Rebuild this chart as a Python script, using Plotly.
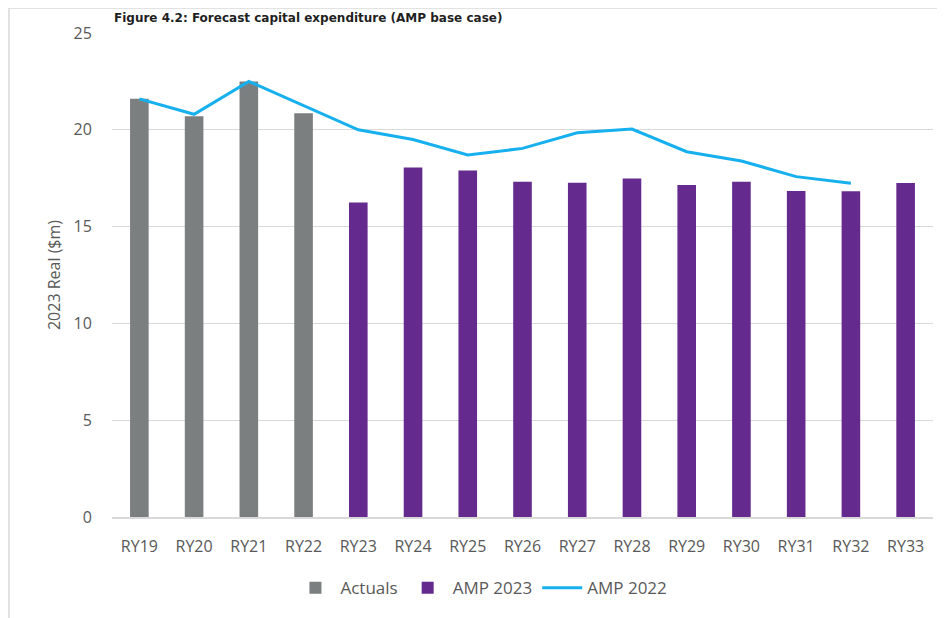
import plotly.graph_objects as go

years = ['RY19', 'RY20', 'RY21', 'RY22', 'RY23', 'RY24', 'RY25', 'RY26',
         'RY27', 'RY28', 'RY29', 'RY30', 'RY31', 'RY32', 'RY33']
actuals = [21.6, 20.7, 22.5, 20.85, None, None, None, None,
           None, None, None, None, None, None, None]
amp_2023 = [None, None, None, None, 16.25, 18.05, 17.9, 17.32,
            17.27, 17.49, 17.15, 17.32, 16.84, 16.82, 17.25]
amp_2022 = [21.6, 20.8, 22.5, 21.25, 20.0, 19.5, 18.7, 19.04,
            19.85, 20.04, 18.87, 18.39, 17.58, 17.24, None]

grey_txt = '#595959'
grid = '#d9d9d9'

fig = go.Figure()
fig.add_bar(x=years, y=actuals, name='Actuals', marker_color='#7b7f80',
            marker_line_width=0)
fig.add_bar(x=years, y=amp_2023, name='AMP 2023', marker_color='#652a8e',
            marker_line_width=0)
fig.add_scatter(x=years, y=amp_2022, name='AMP 2022', mode='lines',
                line=dict(color='#16b0ee', width=3))

# chart border (top and left edges of the framed box)
fig.add_shape(type='line', xref='paper', yref='paper',
              x0=-0.1255, x1=1.1, y0=1.0517, y1=1.0517,
              line=dict(color=grid, width=1.5))
fig.add_shape(type='line', xref='paper', yref='paper',
              x0=-0.1255, x1=-0.1255, y0=1.0517, y1=-0.3,
              line=dict(color=grid, width=1.5))

# caption (cut off at the top in the source; kept readable here)
fig.add_annotation(text='<b>Figure 4.2: Forecast capital expenditure (AMP base case)</b>',
                   xref='paper', yref='paper', x=0.0, y=1.05,
                   xanchor='left', yanchor='top', showarrow=False,
                   font=dict(family='DejaVu Sans', size=12, color='#1f1f1f'))

# page body adds 8px margin, so the figure is 8px smaller than the window
fig.update_layout(
    width=937, height=610,
    margin=dict(l=104, r=12, t=25, b=101),
    paper_bgcolor='white', plot_bgcolor='white',
    barmode='overlay', bargap=0.66,
    font=dict(family='Open Sans', size=15, color=grey_txt),
    showlegend=True,
    legend=dict(orientation='h', x=0.45, xanchor='center', y=-0.147,
                yanchor='middle', font=dict(size=17, color=grey_txt),
                itemwidth=40),
)
fig.update_xaxes(showgrid=False, showline=True, linecolor=grid, linewidth=1.5,
                 ticks='outside', ticklen=14, tickcolor='rgba(0,0,0,0)',
                 tickfont=dict(size=16, color=grey_txt))
fig.update_yaxes(range=[0, 25], dtick=5, showgrid=True, gridcolor=grid,
                 gridwidth=1.2, zeroline=False, showline=False,
                 ticks='outside', ticklen=16, tickcolor='rgba(0,0,0,0)',
                 tickfont=dict(size=16, color=grey_txt),
                 title=dict(text='2023 Real ($m)', standoff=8,
                            font=dict(size=16, color=grey_txt)))

fig.write_html('out.html')
